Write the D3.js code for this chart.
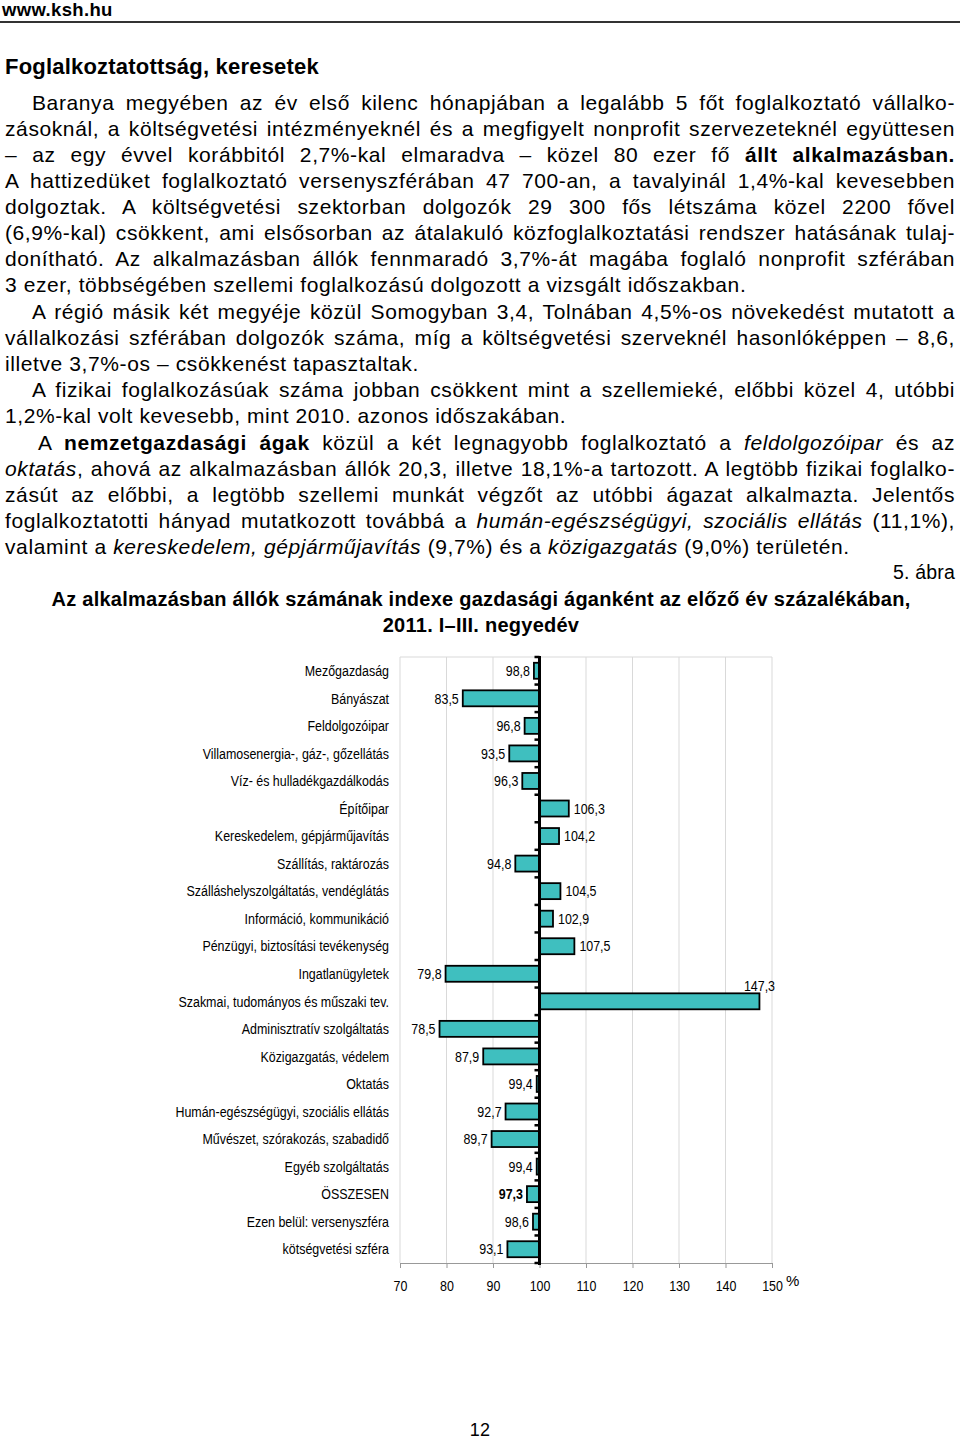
<!DOCTYPE html>
<html>
<head>
<meta charset="utf-8">
<script src="https://cdn.jsdelivr.net/npm/d3@7"></script>
<style>
  body { margin: 0; background: #fff; }
  #page { position: relative; width: 960px; height: 1440px; overflow: hidden; font-family: "Liberation Sans", Arial, sans-serif; color: #000; }
  .line { position: absolute; white-space: nowrap; line-height: 26px; font-size: 21px; letter-spacing: 0.6px; }
  svg { position: absolute; left: 0; top: 0; }
  .chart text { font-family: "Liberation Sans", Arial, sans-serif; }
</style>
</head>
<body>
<div id="page"></div>
<script>
// ---- chart data ----
const categories = [
  "Mezőgazdaság", "Bányászat", "Feldolgozóipar", "Villamosenergia-, gáz-, gőzellátás",
  "Víz- és hulladékgazdálkodás", "Építőipar", "Kereskedelem, gépjárműjavítás",
  "Szállítás, raktározás", "Szálláshelyszolgáltatás, vendéglátás", "Információ, kommunikáció",
  "Pénzügyi, biztosítási tevékenység", "Ingatlanügyletek", "Szakmai, tudományos és műszaki tev.",
  "Adminisztratív szolgáltatás", "Közigazgatás, védelem", "Oktatás",
  "Humán-egészségügyi, szociális ellátás", "Művészet, szórakozás, szabadidő",
  "Egyéb szolgáltatás", "ÖSSZESEN", "Ezen belül: versenyszféra", "kötségvetési szféra"
];
const values = [98.8, 83.5, 96.8, 93.5, 96.3, 106.3, 104.2, 94.8, 104.5, 102.9, 107.5,
  79.8, 147.3, 78.5, 87.9, 99.4, 92.7, 89.7, 99.4, 97.3, 98.6, 93.1];
const xTicks = [70, 80, 90, 100, 110, 120, 130, 140, 150];
const boldCategory = "ÖSSZESEN";

// ---- page text ----
// [html, left, centerY, justified]
const textLines = [
  ["Baranya megyében az év első kilenc hónapjában a legalább 5 főt foglalkoztató vállalko-", 32, 103, true],
  ["zásoknál, a költségvetési intézményeknél és a megfigyelt nonprofit szervezeteknél együttesen", 5, 129, true],
  ["– az egy évvel korábbitól 2,7%-kal elmaradva – közel 80 ezer fő <b>állt alkalmazásban.</b>", 5, 155, true],
  ["A hattizedüket foglalkoztató versenyszférában 47 700-an, a tavalyinál 1,4%-kal kevesebben", 5, 181, true],
  ["dolgoztak. A költségvetési szektorban dolgozók 29 300 fős létszáma közel 2200 fővel", 5, 207, true],
  ["(6,9%-kal) csökkent, ami elsősorban az átalakuló közfoglalkoztatási rendszer hatásának tulaj-", 5, 233, true],
  ["donítható. Az alkalmazásban állók fennmaradó 3,7%-át magába foglaló nonprofit szférában", 5, 259, true],
  ["3 ezer, többségében szellemi foglalkozású dolgozott a vizsgált időszakban.", 5, 285, false],
  ["A régió másik két megyéje közül Somogyban 3,4, Tolnában 4,5%-os növekedést mutatott a", 32, 312, true],
  ["vállalkozási szférában dolgozók száma, míg a költségvetési szerveknél hasonlóképpen – 8,6,", 5, 338, true],
  ["illetve 3,7%-os – csökkenést tapasztaltak.", 5, 364, false],
  ["A fizikai foglalkozásúak száma jobban csökkent mint a szellemieké, előbbi közel 4, utóbbi", 32, 390, true],
  ["1,2%-kal volt kevesebb, mint 2010. azonos időszakában.", 5, 416, false],
  ["A <b>nemzetgazdasági ágak</b> közül a két legnagyobb foglalkoztató a <i>feldolgozóipar</i> és az", 38, 443, true],
  ["<i>oktatás</i>, ahová az alkalmazásban állók 20,3, illetve 18,1%-a tartozott. A legtöbb fizikai foglalko-", 5, 469, true],
  ["zásút az előbbi, a legtöbb szellemi munkát végzőt az utóbbi ágazat alkalmazta. Jelentős", 5, 495, true],
  ["foglalkoztatotti hányad mutatkozott továbbá a <i>humán-egészségügyi, szociális ellátás</i> (11,1%),", 5, 521, true],
  ["valamint a <i>kereskedelem, gépjárműjavítás</i> (9,7%) és a <i>közigazgatás</i> (9,0%) területén.", 5, 547, false]
];
const chartTitle = ["Az alkalmazásban állók számának indexe gazdasági áganként az előző év százalékában,", "2011. I–III. negyedév"];

const page = d3.select("#page");
const rightEdge = 955;

// svg underneath the text
const svg = page.append("svg").attr("width", 960).attr("height", 1440);

// header
page.append("div").attr("class", "line")
  .style("left", "2px").style("top", "-3px").style("font-size", "18.5px").style("font-weight", "bold")
  .style("letter-spacing", "0.35px")
  .text("www.ksh.hu");
svg.append("line").attr("x1", 0).attr("x2", 960).attr("y1", 22).attr("y2", 22)
  .attr("stroke", "#333").attr("stroke-width", 2);

page.append("div").attr("class", "line")
  .style("left", "5px").style("top", (67 - 13) + "px").style("font-size", "22px").style("font-weight", "bold")
  .style("letter-spacing", "0.2px")
  .text("Foglalkoztatottság, keresetek");

// body lines, justified by adjusting word spacing
textLines.forEach(([html, left, cy, just]) => {
  const div = page.append("div").attr("class", "line")
    .style("left", left + "px").style("top", (cy - 13) + "px").html(html);
  if (just) {
    const w = div.node().getBoundingClientRect().width;
    const spaces = (div.text().match(/ /g) || []).length;
    const target = rightEdge - left;
    if (spaces > 0) div.style("word-spacing", ((target - w) / spaces) + "px");
  }
});

// figure number and title
page.append("div").attr("class", "line")
  .style("right", (960 - rightEdge) + "px").style("top", (572 - 13) + "px")
  .style("font-size", "19.5px").style("letter-spacing", "0.2px").text("5. ábra");
chartTitle.forEach((t, i) => {
  page.append("div").attr("class", "line")
    .style("left", "0px").style("width", "962px").style("text-align", "center")
    .style("top", (599 + i * 26 - 13) + "px").style("font-size", "20px").style("font-weight", "bold")
    .style("letter-spacing", "0.25px")
    .text(t);
});

// page number (kept inside the page box)
page.append("div").attr("class", "line")
  .style("left", "0px").style("width", "960px").style("text-align", "center")
  .style("top", "1422px").style("line-height", "16px")
  .style("font-size", "18px").style("letter-spacing", "0.3px").text("12");

// ---- chart ----
const plotTop = 657, plotBottom = 1263;
const squeeze = 0.83; // narrow label face
const x = d3.scaleLinear().domain([70, 150]).range([400, 772]);
const y = d3.scaleBand().domain(categories).range([plotTop, plotBottom])
  .paddingInner(0.42).paddingOuter(0.21);
const step = y.step();
const fmt = v => v.toFixed(1).replace(".", ",");
const g = svg.append("g").attr("class", "chart");

// grid + frame
g.selectAll("line.grid").data(xTicks).join("line").attr("class", "grid")
  .attr("x1", d => x(d)).attr("x2", d => x(d))
  .attr("y1", plotTop).attr("y2", plotBottom)
  .attr("stroke", "#d9d9d9").attr("stroke-width", 1);
g.append("line").attr("x1", x(70)).attr("x2", x(150)).attr("y1", plotTop).attr("y2", plotTop)
  .attr("stroke", "#d9d9d9");

// bottom axis
const xAxis = g.append("g").attr("transform", `translate(0,${plotBottom})`)
  .call(d3.axisBottom(x).tickValues(xTicks).tickSize(5).tickSizeOuter(0).tickPadding(12));
xAxis.select(".domain").attr("stroke", "#999");
xAxis.selectAll(".tick line").attr("stroke", "#999");
xAxis.selectAll(".tick text").attr("font-size", "15px").attr("fill", "#000")
  .attr("font-family", null).attr("transform", `scale(${squeeze},1)`);
g.append("text").attr("x", x(150) + 14).attr("y", 1281).attr("dy", "0.35em")
  .attr("font-size", "15px").text("%");

// bars
g.selectAll("rect.bar").data(values).join("rect").attr("class", "bar")
  .attr("x", d => x(Math.min(d, 100)))
  .attr("width", d => Math.abs(x(d) - x(100)))
  .attr("y", (d, i) => y(categories[i]))
  .attr("height", y.bandwidth())
  .attr("fill", "#3fbfbf").attr("stroke", "#000").attr("stroke-width", 1.8);

// vertical axis at 100 with tick marks at band boundaries
g.append("line").attr("x1", x(100)).attr("x2", x(100)).attr("y1", plotTop - 1).attr("y2", plotBottom + 2)
  .attr("stroke", "#000").attr("stroke-width", 3);
g.selectAll("line.ytick").data(d3.range(categories.length + 1)).join("line").attr("class", "ytick")
  .attr("x1", x(100) - 5).attr("x2", x(100))
  .attr("y1", i => plotTop + i * step).attr("y2", i => plotTop + i * step)
  .attr("stroke", "#000").attr("stroke-width", 2.5);

// category labels
g.selectAll("text.cat").data(categories).join("text").attr("class", "cat")
  .attr("transform", d => `translate(389,${y(d) + y.bandwidth() / 2}) scale(${squeeze},1)`)
  .attr("dy", "0.35em").attr("text-anchor", "end").attr("font-size", "15px")
  .text(d => d);

// value labels
g.selectAll("text.val").data(values).join("text").attr("class", "val")
  .attr("transform", (d, i) => {
    const tx = d > 140 ? x(d) : d < 100 ? x(d) - 4 : x(d) + 5;
    const ty = d > 140 ? y(categories[i]) - 8 : y(categories[i]) + y.bandwidth() / 2;
    return `translate(${tx},${ty}) scale(${squeeze},1)`;
  })
  .attr("dy", "0.35em")
  .attr("text-anchor", d => d > 140 ? "middle" : d < 100 ? "end" : "start")
  .attr("font-size", "15px")
  .attr("font-weight", (d, i) => categories[i] === boldCategory ? "bold" : null)
  .text(fmt);
</script>
</body>
</html>
